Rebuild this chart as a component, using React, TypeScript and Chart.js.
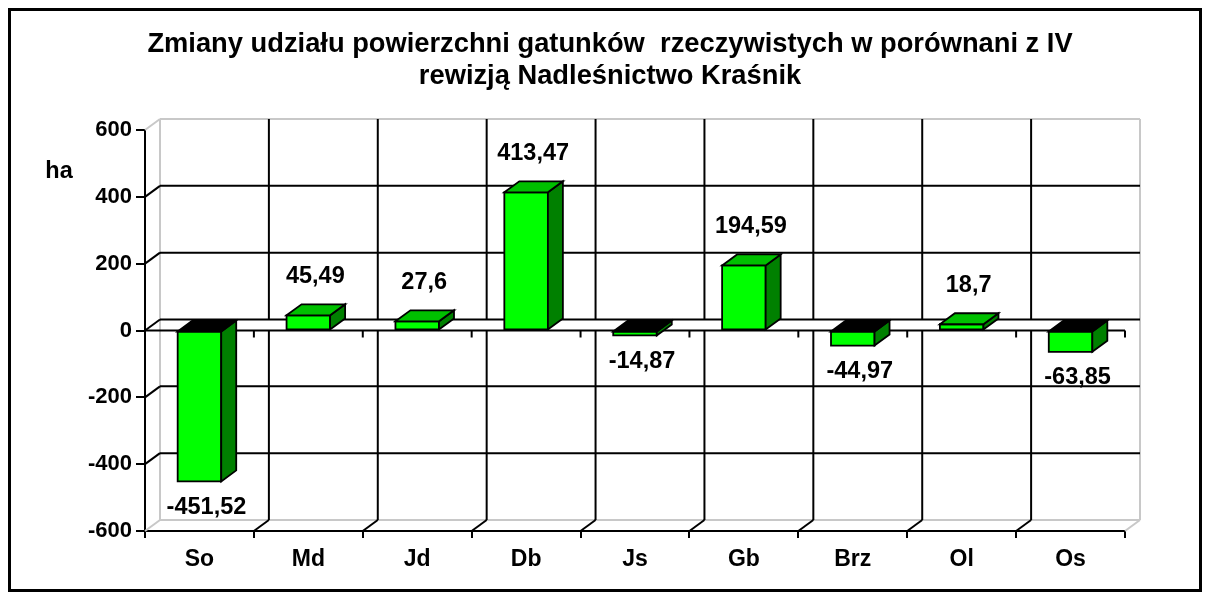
import React, { useEffect, useRef } from "react";
import { Chart, registerables } from "chart.js";

Chart.register(...registerables);

const categories = ["So", "Md", "Jd", "Db", "Js", "Gb", "Brz", "Ol", "Os"];
const values = [-451.52, 45.49, 27.6, 413.47, -14.87, 194.59, -44.97, 18.7, -63.85];
const yMin = -600;
const yMax = 600;
const yStep = 200;
const titleLines = [
  "Zmiany udziału powierzchni gatunków  rzeczywistych w porównani z IV",
  "rewizją Nadleśnictwo Kraśnik",
];
const yAxisTitle = "ha";

const FONT = "'Liberation Sans', Arial, sans-serif";
const DX = 15;
const DY = 11;

const fmt = (v: number) => String(v).replace(".", ",");

const threeD = {
  id: "threeD",
  beforeDatasetsDraw(chart: any) {
    const { ctx, chartArea: a, scales } = chart;
    const y = scales.y;
    const L = a.left, R = a.right, T = a.top, B = a.bottom;
    const n = categories.length;
    const step = (R - L) / n;
    const y0 = y.getPixelForValue(0);
    const line = (x1: number, y1: number, x2: number, y2: number) => {
      ctx.beginPath();
      ctx.moveTo(x1, y1);
      ctx.lineTo(x2, y2);
      ctx.stroke();
    };
    ctx.save();
    ctx.lineCap = "butt";
    // wall edges
    ctx.strokeStyle = "#c8c8c8";
    ctx.lineWidth = 2;
    line(L + DX, T - DY, R + DX, T - DY);
    line(R + DX, T - DY, R + DX, B - DY);
    line(L + DX, B - DY, R + DX, B - DY);
    line(L + DX, T - DY, L + DX, B - DY);
    line(L, T, L + DX, T - DY);
    line(L, B, L + DX, B - DY);
    line(R, B, R + DX, B - DY);
    // horizontal gridlines on back wall + left wall diagonals
    ctx.strokeStyle = "#000";
    ctx.lineWidth = 2;
    for (const t of y.ticks) {
      const v = t.value;
      if (v <= yMin || v >= yMax) continue;
      const yy = y.getPixelForValue(v);
      line(L + DX, yy - DY, R + DX, yy - DY);
      line(L, yy, L + DX, yy - DY);
    }
    // vertical gridlines on back wall
    for (let i = 1; i < n; i++) {
      const xb = L + i * step;
      line(xb + DX, T - DY, xb + DX, y0 - DY);
      line(xb + DX, y0, xb + DX, B - DY);
      line(xb, B, xb + DX, B - DY);
    }
    // floor at zero
    line(L, y0, R, y0);
    for (let i = 0; i <= n; i++) {
      const xb = L + i * step;
      line(xb, y0, xb, y0 + 7);
    }
    ctx.restore();
  },
  afterDatasetsDraw(chart: any) {
    const { ctx } = chart;
    const meta = chart.getDatasetMeta(0);
    ctx.save();
    ctx.lineWidth = 1.8;
    ctx.strokeStyle = "#000";
    ctx.lineJoin = "miter";
    const poly = (pts: number[][], fill: string) => {
      ctx.beginPath();
      ctx.moveTo(pts[0][0], pts[0][1]);
      for (let k = 1; k < pts.length; k++) ctx.lineTo(pts[k][0], pts[k][1]);
      ctx.closePath();
      ctx.fillStyle = fill;
      ctx.fill();
      ctx.stroke();
    };
    meta.data.forEach((el: any, i: number) => {
      const p = el.getProps(["x", "y", "base", "width"], true);
      const left = p.x - p.width / 2;
      const right = p.x + p.width / 2;
      const top = Math.min(p.y, p.base);
      const bottom = Math.max(p.y, p.base);
      const neg = values[i] < 0;
      poly([[left, top], [right, top], [right, bottom], [left, bottom]], "#00ff00");
      poly([[right, top], [right + DX, top - DY], [right + DX, bottom - DY], [right, bottom]], "#008000");
      poly([[left, top], [left + DX, top - DY], [right + DX, top - DY], [right, top]], neg ? "#000000" : "#00c000");
    });
    // data labels
    ctx.fillStyle = "#000";
    ctx.font = `bold 23.5px ${FONT}`;
    ctx.textAlign = "center";
    ctx.textBaseline = "middle";
    meta.data.forEach((el: any, i: number) => {
      const p = el.getProps(["x", "y", "base", "width"], true);
      const top = Math.min(p.y, p.base);
      const bottom = Math.max(p.y, p.base);
      const ly = values[i] >= 0 ? top - 39 : bottom + 26;
      ctx.fillText(fmt(values[i]), p.x + 7, ly);
    });
    ctx.restore();
  },
  afterDraw(chart: any) {
    const { ctx } = chart;
    ctx.save();
    ctx.fillStyle = "#000";
    ctx.textAlign = "center";
    ctx.textBaseline = "alphabetic";
    ctx.font = `bold 27.3px ${FONT}`;
    ctx.fillText(titleLines[0], 599, 41);
    ctx.fillText(titleLines[1], 599, 73);
    ctx.font = `bold 23.5px ${FONT}`;
    ctx.fillText(yAxisTitle, 48, 167);
    ctx.restore();
  },
};

export default function App() {
  const ref = useRef<HTMLCanvasElement | null>(null);
  useEffect(() => {
    if (!ref.current) return;
    const chart = new Chart(ref.current, {
      type: "bar",
      data: {
        labels: categories,
        datasets: [
          {
            data: values,
            backgroundColor: "rgba(0,0,0,0)",
            borderWidth: 0,
            categoryPercentage: 1,
            barPercentage: 0.4,
          },
        ],
      },
      options: {
        animation: false,
        responsive: false,
        devicePixelRatio: 1,
        layout: { padding: { top: 119, right: 74, bottom: 0, left: 0 } },
        plugins: {
          legend: { display: false },
          tooltip: { enabled: false },
          title: { display: false },
        },
        scales: {
          x: {
            type: "category",
            offset: true,
            grid: {
              display: true,
              offset: true,
              drawOnChartArea: false,
              drawTicks: true,
              tickLength: 7,
              color: "#000",
              lineWidth: 2,
            },
            border: { display: true, color: "#000", width: 2 },
            ticks: {
              color: "#000",
              font: { family: FONT, size: 23, weight: "bold" },
              padding: 8,
              maxRotation: 0,
              autoSkip: false,
            },
            afterFit: (s: any) => {
              s.height = 58;
            },
          },
          y: {
            min: yMin,
            max: yMax,
            ticks: {
              stepSize: yStep,
              color: "#000",
              font: { family: FONT, size: 22, weight: "bold" },
              padding: 4,
              callback: (v: any) => String(v),
            },
            grid: {
              display: true,
              drawOnChartArea: false,
              drawTicks: true,
              tickLength: 9,
              color: "#000",
              lineWidth: 2,
            },
            border: { display: true, color: "#000", width: 2 },
            afterFit: (s: any) => {
              s.width = 134;
            },
          },
        },
      },
      plugins: [threeD],
    } as any);
    return () => chart.destroy();
  }, []);

  return (
    <div
      style={{
        position: "absolute",
        left: 8,
        top: 8,
        width: 1194,
        height: 584,
        boxSizing: "border-box",
        border: "3px solid #000",
        background: "#fff",
      }}
    >
      <canvas ref={ref} width={1188} height={578} style={{ display: "block", width: 1188, height: 578 }} />
    </div>
  );
}
